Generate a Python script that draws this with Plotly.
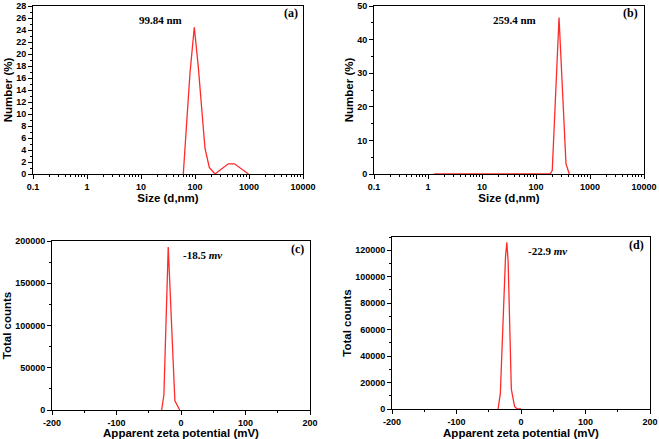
import plotly.graph_objects as go

# ---- data ----
size_a = [60.7, 80.7, 97, 115, 153, 184, 234, 414, 537, 980]
num_a = [0, 16.8, 24.45, 17.9, 4.3, 1.1, 0, 1.7, 1.7, 0]

size_b = [1.3, 3, 10, 30, 100, 182, 200, 267, 359, 414]
num_b = [0, 0, 0, 0, 0, 0, 1.0, 46.6, 3.0, 0]

zeta_c = [-30, -26.5, -19.8, -17.5, -13.5, -9.5, -2]
counts_c = [0, 18000, 193000, 150000, 65000, 11000, 0]

zeta_d = [-35.5, -32, -24, -22, -20, -15, -10, -6, 0]
counts_d = [0, 12000, 115000, 126000, 112000, 15000, 2000, 0, 0]

size_ticks = [0.1, 1, 10, 100, 1000, 10000]
size_tick_text = ["0.1", "1", "10", "100", "1000", "10000"]
size_minor = [m * 10 ** e for e in range(-1, 4) for m in range(2, 10)]

zeta_ticks = [-200, -100, 0, 100, 200]
zeta_tick_text = ["-200", "-100", "0", "100", "200"]

labels = ["(a)", "(b)", "(c)", "(d)"]
peaks = ["99.84 nm", "259.4 nm", "-18.5 <i>mv</i>", "-22.9 <i>mv</i>"]

RED = "#ff2a2a"
TICKFONT = dict(family="Liberation Sans", size=9, color="black", weight="bold")
TITLEFONT = dict(family="Liberation Sans", size=11.5, color="black", weight="bold")

fig = go.Figure()
fig.add_trace(go.Scatter(x=size_a, y=num_a, mode="lines", line=dict(color=RED, width=1.3),
                         xaxis="x", yaxis="y", showlegend=False))
fig.add_trace(go.Scatter(x=size_b, y=num_b, mode="lines", line=dict(color=RED, width=1.3),
                         xaxis="x2", yaxis="y2", showlegend=False))
fig.add_trace(go.Scatter(x=zeta_c, y=counts_c, mode="lines", line=dict(color=RED, width=1.3),
                         xaxis="x3", yaxis="y3", showlegend=False))
fig.add_trace(go.Scatter(x=zeta_d, y=counts_d, mode="lines", line=dict(color=RED, width=1.3),
                         xaxis="x4", yaxis="y4", showlegend=False))

W, H = 659, 439
def dx(a, b):
    return [a / W, b / W]
def dy(top, bottom):
    return [(H - bottom) / H, (H - top) / H]

common = dict(showline=True, linecolor="black", linewidth=1, mirror=True, ticks="outside",
              ticklen=4, tickcolor="black", showgrid=False, zeroline=False, automargin=False,
              tickfont=TICKFONT, title_font=TITLEFONT)

log_x = dict(type="log", range=[-1, 4], tickmode="array", tickvals=size_ticks,
             ticktext=size_tick_text,
             minor=dict(ticks="outside", ticklen=2, tickcolor="black", tickmode="array",
                        tickvals=size_minor),
             title=dict(text="Size (d,nm)", standoff=3), **common)

zeta_x = dict(range=[-200, 200], tickmode="array", tickvals=zeta_ticks, ticktext=zeta_tick_text,
              minor=dict(ticks="outside", ticklen=2, tickcolor="black", tickmode="linear",
                         tick0=-200, dtick=50),
              title=dict(text="Apparent zeta potential (mV)", standoff=3), **common)

fig.update_layout(
    width=W, height=H, margin=dict(l=0, r=0, t=0, b=0),
    plot_bgcolor="white", paper_bgcolor="white",
    xaxis=dict(domain=dx(33, 303), anchor="y", **log_x),
    yaxis=dict(domain=dy(6, 174), anchor="x", range=[0, 28], dtick=2,
               minor=dict(ticks="outside", ticklen=2, tickcolor="black", dtick=1),
               title=dict(text="Number (%)", standoff=1), **common),
    xaxis2=dict(domain=dx(374, 644), anchor="y2", **log_x),
    yaxis2=dict(domain=dy(6, 174), anchor="x2", range=[0, 50], dtick=10,
                minor=dict(ticks="outside", ticklen=2, tickcolor="black", dtick=5),
                title=dict(text="Number (%)", standoff=1), **common),
    xaxis3=dict(domain=dx(52, 310), anchor="y3", **zeta_x),
    yaxis3=dict(domain=dy(241, 410), anchor="x3", range=[0, 200000], dtick=50000,
                tickformat="d",
                minor=dict(ticks="outside", ticklen=2, tickcolor="black", dtick=25000),
                title=dict(text="Total counts", standoff=1), **common),
    xaxis4=dict(domain=dx(392, 650), anchor="y4", **zeta_x),
    yaxis4=dict(domain=dy(237, 409), anchor="x4", range=[0, 130000], dtick=20000,
                tickformat="d",
                minor=dict(ticks="outside", ticklen=2, tickcolor="black", dtick=10000),
                title=dict(text="Total counts", standoff=1), **common),
)

ANNFONT = dict(family="Liberation Serif", size=11, color="black", weight="bold")
ann_pos = [((160, 20), (300, 13)), ((514, 20), (640, 13)),
           ((202, 255), (306, 249)), ((547, 251), (646, 245))]
for (pk, lb), ptxt, ltxt in zip(ann_pos, peaks, labels):
    fig.add_annotation(x=pk[0] / W, y=1 - pk[1] / H, xref="paper", yref="paper",
                       text=ptxt, showarrow=False, font=ANNFONT, xanchor="center", yanchor="middle")
    fig.add_annotation(x=lb[0] / W, y=1 - lb[1] / H, xref="paper", yref="paper",
                       text=ltxt, showarrow=False, font=dict(ANNFONT, size=12),
                       xanchor="right", yanchor="middle")

fig.write_html(
    "out.html",
    config={"displayModeBar": False},
    post_script="document.body.style.margin='0';document.body.style.overflow='hidden';",
)
